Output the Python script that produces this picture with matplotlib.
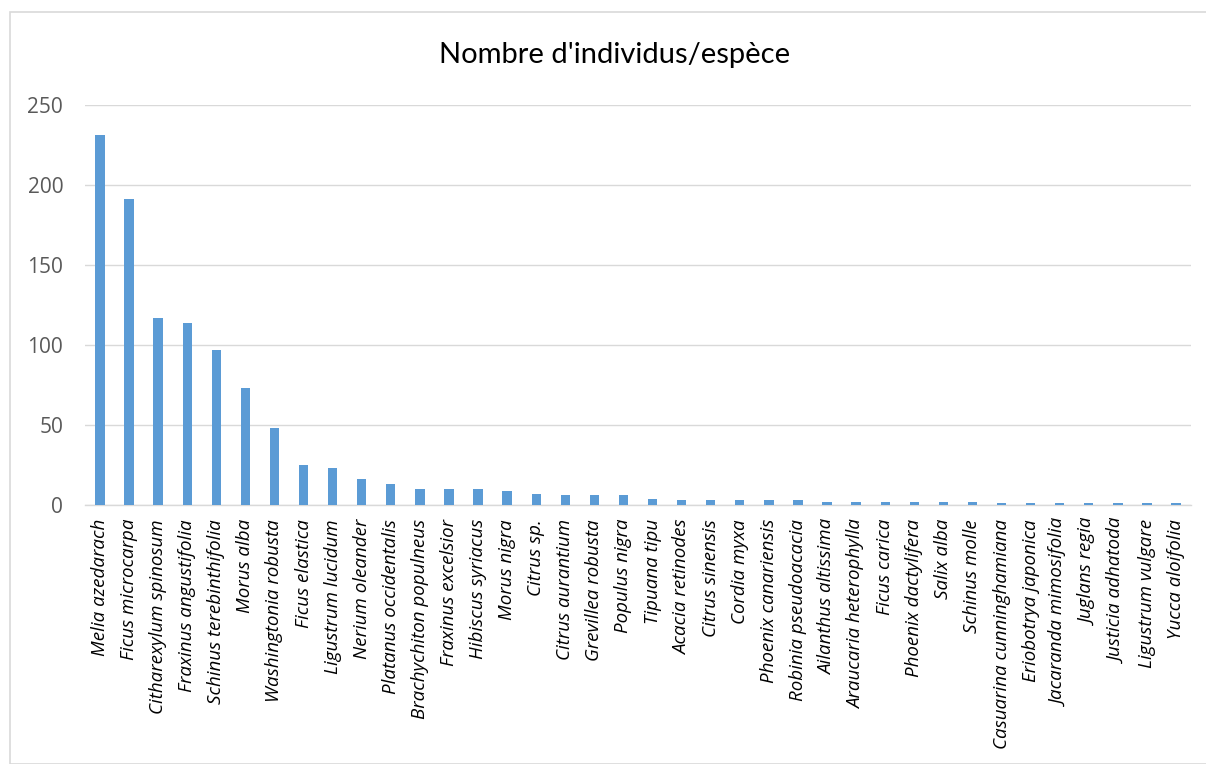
import matplotlib
matplotlib.use("Agg")
import matplotlib.pyplot as plt
from matplotlib.patches import Rectangle

especes = [
    "Melia azedarach", "Ficus microcarpa", "Citharexylum spinosum",
    "Fraxinus angustifolia", "Schinus terebinthifolia", "Morus alba",
    "Washingtonia robusta", "Ficus elastica", "Ligustrum lucidum",
    "Nerium oleander", "Platanus occidentalis", "Brachychiton populneus",
    "Fraxinus excelsior", "Hibiscus syriacus", "Morus nigra", "Citrus sp.",
    "Citrus aurantium", "Grevillea robusta", "Populus nigra", "Tipuana tipu",
    "Acacia retinodes", "Citrus sinensis", "Cordia myxa",
    "Phoenix canariensis", "Robinia pseudoacacia", "Ailanthus altissima",
    "Araucaria heterophylla", "Ficus carica", "Phoenix dactylifera",
    "Salix alba", "Schinus molle", "Casuarina cunninghamiana",
    "Eriobotrya japonica", "Jacaranda mimosifolia", "Juglans regia",
    "Justicia adhatoda", "Ligustrum vulgare", "Yucca aloifolia",
]
individus = [231, 191, 117, 114, 97, 73, 48, 25, 23, 16, 13, 10, 10, 10, 9, 7,
             6, 6, 6, 4, 3, 3, 3, 3, 3, 2, 2, 2, 2, 2, 2, 1, 1, 1, 1, 1, 1, 1]
graduations = [0, 50, 100, 150, 200, 250]

fig = plt.figure(figsize=(12.06, 7.64), dpi=100)
# cadre du graphique
fig.patches.append(Rectangle((10 / 1206, 0), 1.2, 1 - 12 / 764, transform=fig.transFigure,
                             fill=False, edgecolor="#D9D9D9", linewidth=1.2))

ax = fig.add_axes([85.4 / 1206, 259 / 764, (1190.6 - 85.4) / 1206, 400 / 764])
x = list(range(len(especes)))
ax.bar(x, individus, width=0.32, color="#5B9BD5", zorder=3)

ax.set_xlim(-0.5, len(especes) - 0.5)
ax.set_ylim(0, 250)
ax.set_yticks(graduations)
ax.set_yticklabels([str(g) for g in graduations], fontsize=15, color="#595959",
                   family="Open Sans")
ax.set_xticks(x)
ax.set_xticklabels(especes, rotation=90, fontsize=13.5, style="italic",
                   color="#000000", family="Open Sans")
ax.tick_params(axis="both", length=0)
ax.tick_params(axis="y", pad=16)
ax.tick_params(axis="x", pad=10)
ax.grid(axis="y", color="#D9D9D9", linewidth=1, zorder=0)
for s in ["top", "right", "left"]:
    ax.spines[s].set_visible(False)
ax.spines["bottom"].set_color("#D9D9D9")
ax.spines["bottom"].set_linewidth(1)

fig.text(615 / 1206, 1 - 55 / 764, "Nombre d'individus/espèce", ha="center",
         va="center", fontsize=21, family="Lato", color="#000000")

fig.savefig("out.png", dpi=100)
